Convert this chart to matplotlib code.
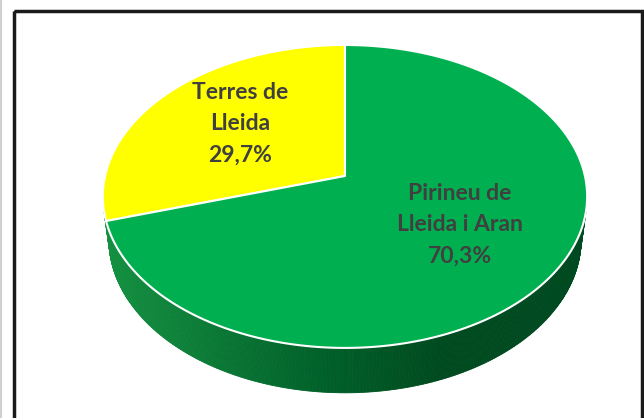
import numpy as np
import matplotlib
matplotlib.use('Agg')
import matplotlib.pyplot as plt
from matplotlib.patches import Polygon, Rectangle
from matplotlib.colors import LinearSegmentedColormap

labels = ['Terres de\nLleida', 'Pirineu de\nLleida i Aran']
values = [29.7, 70.3]
colors = ['#FFFF00', '#00B050']

# 3D pie view (perspective, looking down at the disc)
tilt = np.radians(38.3)
D = 5.81      # camera distance
h = 0.235     # disc thickness
K = 1394      # scale to pixels
cx, cy = 345, 176
c, s = np.cos(tilt), np.sin(tilt)


def proj(x, y, z):
    d = D + y * c - z * s
    return cx + K * x / d, cy - K * (y * s + z * c) / d


side_cmap = LinearSegmentedColormap.from_list(
    'side', [(0, '#159142'), (0.45, '#006129'), (0.7, '#004a20'), (1, '#004a21')])

fig = plt.figure(figsize=(6.44, 4.18), dpi=100)
ax = fig.add_axes([0, 0, 1, 1])
ax.set_xlim(0, 644)
ax.set_ylim(418, 0)
ax.axis('off')

# side wall (only faces turned to the camera)
t = np.linspace(0, 2 * np.pi, 721)
tx, ty = proj(np.cos(t), np.sin(t), 0 * t)
bx, by = proj(np.cos(t), np.sin(t), -h + 0 * t)
tm = (t[:-1] + t[1:]) / 2
vis = -1 - D * c * np.sin(tm) > 0
xmin, xmax = tx.min(), tx.max()
for i in np.where(vis)[0]:
    u = ((tx[i] + tx[i + 1]) / 2 - xmin) / (xmax - xmin)
    col = side_cmap(u)
    ax.add_patch(Polygon([(tx[i], ty[i]), (tx[i + 1], ty[i + 1]),
                          (bx[i + 1], by[i + 1]), (bx[i], by[i])],
                         closed=True, facecolor=col, edgecolor=col, lw=0.6))

# top faces
total = sum(values)
start = 90.0
for lab, v, col in zip(labels, values, colors):
    a1 = start
    a2 = start + v / total * 360
    a = np.radians(np.linspace(a1, a2, 200))
    px, py = proj(np.cos(a), np.sin(a), 0 * a)
    ox, oy = proj(0, 0, 0)
    pts = [(ox, oy)] + list(zip(px, py))
    ax.add_patch(Polygon(pts, closed=True, facecolor=col, edgecolor='white',
                         lw=1.5, joinstyle='round'))
    mid = np.radians((a1 + a2) / 2)
    lx, ly = proj(0.57 * np.cos(mid), 0.57 * np.sin(mid), 0)
    pct = f'{v:.1f}%'.replace('.', ',')
    ax.text(lx, ly - 4, f'{lab}\n{pct}', ha='center', va='center',
            fontsize=16.5, fontweight='bold', family='Lato', color='#404040',
            linespacing=1.62)
    start = a2

# chart frame
ax.add_patch(Rectangle((14, 11), 628, 430, fill=False, edgecolor='#1a1a1a',
                       lw=2.5, clip_on=False))
ax.plot([1, 1], [0, 418], color='#d0d0d0', lw=1.5)

fig.savefig('out.png', dpi=100)
